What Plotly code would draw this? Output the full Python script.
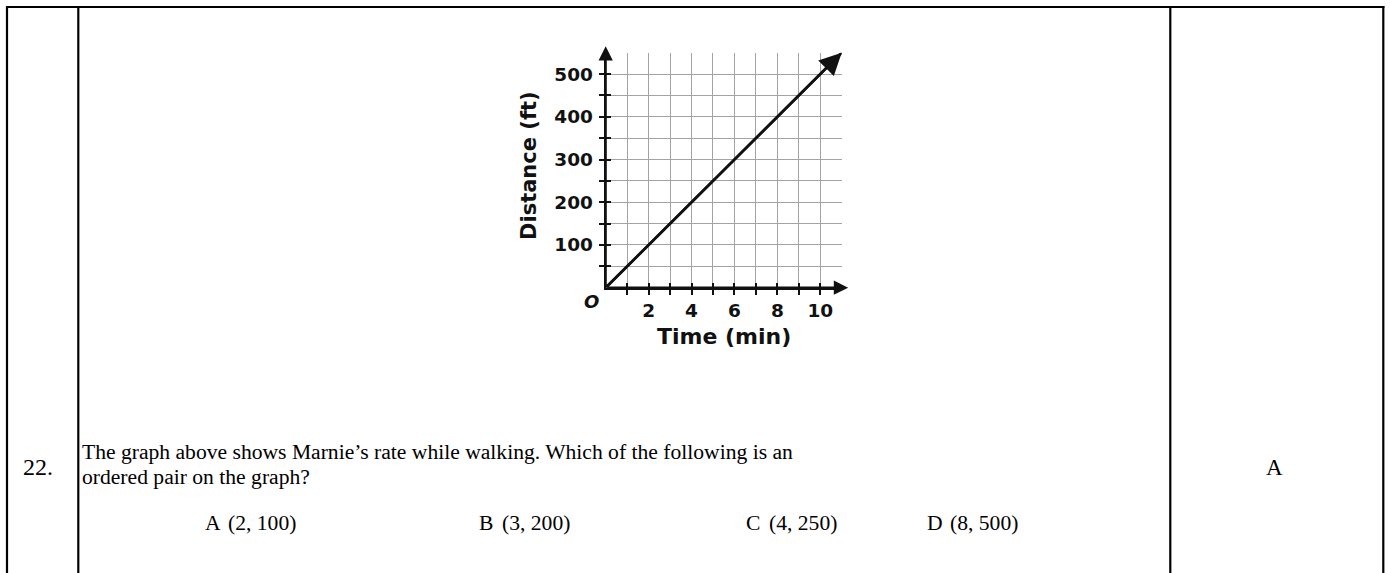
import plotly.graph_objects as go

W, H = 1390, 573

# line on the graph: time (min) vs distance (ft)
TIME = [0, 11]
DISTANCE = [0, 550]

X_GRID = list(range(0, 12))
Y_GRID = list(range(0, 551, 50))
X_TICKS = list(range(1, 11))
X_LABELS = ["", "2", "", "4", "", "6", "", "8", "", "10"]
Y_TICKS = list(range(50, 501, 50))
Y_LABELS = ["", "100", "", "200", "", "300", "", "400", "", "500"]

QUESTION_NO = "22."
ANSWER = "A"
QUESTION_LINES = [
    "The graph above shows Marnie\u2019s rate while walking. Which of the following is an",
    "ordered pair on the graph?",
]
OPTION_LETTERS = ["A", "B", "C", "D"]
OPTION_PAIRS = ["(2, 100)", "(3, 200)", "(4, 250)", "(8, 500)"]


def fx(p):
    return p / W


def fy(p):
    return 1 - p / H


SANS = "DejaVu Sans"
SERIF = "Liberation Serif, Times New Roman, serif"
BLACK = "#111111"
GRID = "#a3a3a3"

x_dom = [fx(605.7), fx(841.7)]
y_dom = [fy(287.7), fy(52.7)]

fig = go.Figure()
fig.add_trace(go.Scatter(x=TIME, y=DISTANCE, mode="lines",
                         line=dict(color=BLACK, width=2.6),
                         hoverinfo="skip", showlegend=False))
# empty traces so the overlaid tick axes get drawn
fig.add_trace(go.Scatter(x=[], y=[], xaxis="x2", yaxis="y2", showlegend=False))
fig.add_trace(go.Scatter(x=[], y=[], xaxis="x3", yaxis="y3", showlegend=False))

tick_font = dict(family=SANS, size=18.5, color=BLACK, weight="bold")
axis_common = dict(showgrid=False, zeroline=False, fixedrange=True)

fig.update_layout(
    width=W, height=H,
    margin=dict(l=0, r=0, t=0, b=0),
    paper_bgcolor="white", plot_bgcolor="white",
    showlegend=False,
    # grid axes
    xaxis=dict(domain=x_dom, range=[0, 11], tickvals=X_GRID, showticklabels=False,
               ticks="", showgrid=True, gridcolor=GRID, gridwidth=1.3,
               zeroline=False, showline=False, fixedrange=True),
    yaxis=dict(domain=y_dom, range=[0, 550], tickvals=Y_GRID, showticklabels=False,
               ticks="", showgrid=True, gridcolor=GRID, gridwidth=1.3,
               zeroline=False, showline=False, fixedrange=True),
    # ticks outside + labels + axis lines
    xaxis2=dict(domain=x_dom, range=[0, 11], overlaying="x", anchor="y2",
                tickvals=X_TICKS, ticktext=X_LABELS, ticks="outside", ticklen=5,
                tickwidth=2, tickcolor=BLACK, tickfont=tick_font, ticklabelstandoff=0,
                showline=True, linecolor=BLACK, linewidth=2.2, **axis_common),
    yaxis2=dict(domain=y_dom, range=[0, 550], overlaying="y", anchor="x2",
                tickvals=Y_TICKS, ticktext=Y_LABELS, ticks="outside", ticklen=5,
                tickwidth=2, tickcolor=BLACK, tickfont=tick_font, ticklabelstandoff=2,
                showline=True, linecolor=BLACK, linewidth=2.2, **axis_common),
    # ticks inside, so they cross the axis
    xaxis3=dict(domain=x_dom, range=[0, 11], overlaying="x", anchor="y3",
                tickvals=X_TICKS, ticks="inside", ticklen=5, tickwidth=2,
                tickcolor=BLACK, showticklabels=False, showline=False, **axis_common),
    yaxis3=dict(domain=y_dom, range=[0, 550], overlaying="y", anchor="x3",
                tickvals=Y_TICKS, ticks="inside", ticklen=5, tickwidth=2,
                tickcolor=BLACK, showticklabels=False, showline=False, **axis_common),
)

# arrow heads: axes and the data line
arrow = dict(xref="x", yref="y", axref="x", ayref="y", text="", showarrow=True,
             arrowcolor=BLACK, arrowhead=2, standoff=0, startstandoff=0)
fig.add_annotation(x=0, y=565, ax=0, ay=0, arrowwidth=2.2, arrowsize=1.3, **arrow)
fig.add_annotation(x=11.3, y=0, ax=0, ay=0, arrowwidth=2.2, arrowsize=1.3, **arrow)
fig.add_annotation(x=TIME[-1], y=DISTANCE[-1], ax=TIME[0], ay=DISTANCE[0],
                   arrowwidth=2.6, arrowsize=1.7, **arrow)


def note(x, y, text, font, xanchor="center", **kw):
    fig.add_annotation(x=fx(x), y=fy(y), xref="paper", yref="paper", text=text,
                       xanchor=xanchor, yanchor="middle", showarrow=False,
                       font=font, **kw)


# chart texts
note(591.5, 301.5, "O", dict(family=SANS, size=18, color=BLACK, weight="bold", style="italic"))
note(724, 336, "Time (min)", dict(family=SANS, size=22, color=BLACK, weight="bold"))
note(529, 166, "Distance (ft)", dict(family=SANS, size=21, color=BLACK, weight="bold"),
     textangle=-90)

# question texts
serif = dict(family=SERIF, size=21.6, color="black")
note(21, 467, QUESTION_NO, dict(serif, size=24), xanchor="left")
note(1274, 467, ANSWER, dict(serif, size=23))
for i, line in enumerate(QUESTION_LINES):
    note(80, 452 + 25 * i, line, serif, xanchor="left")
letter_x = [203, 477, 744, 925]
for lx, letter, pair in zip(letter_x, OPTION_LETTERS, OPTION_PAIRS):
    note(lx, 523, letter, serif, xanchor="left")
    note(lx + 23, 523, pair, serif, xanchor="left")

# table borders
for x in [7, 78.3, 1170.3, 1383.3]:
    fig.add_shape(type="line", xref="paper", yref="paper", x0=fx(x), x1=fx(x),
                  y0=fy(6), y1=0, line=dict(color="black", width=2.2))
fig.add_shape(type="line", xref="paper", yref="paper", x0=fx(6), x1=fx(1384.4),
              y0=fy(7), y1=fy(7), line=dict(color="black", width=2.2))

# drop the browser's default page margin so the figure sits at the page corner
fig.write_html("out.html", config={"displayModeBar": False},
               post_script="document.body.style.margin = '0px';")
